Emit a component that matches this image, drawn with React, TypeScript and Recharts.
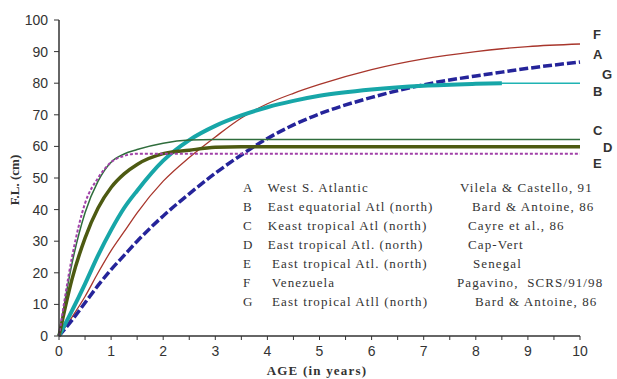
import React from "react";
import { LineChart, Line, XAxis, YAxis } from "recharts";

// ages (years) shared by every curve
const ages = [0, 0.25, 0.5, 0.75, 1, 1.25, 1.5, 2, 2.5, 3, 3.5, 4, 4.5, 5, 6, 7, 8, 8.5, 9, 10];

// fork length (cm)
const seriesA = [0, 5, 10.5, 16, 21, 25.5, 30, 38, 45, 51.5, 57.3, 62.5, 66.8, 70.3, 75.5, 79.5, 82.3, 83.5, 84.7, 86.7];
const seriesB = [0, 8, 16.5, 25.5, 33.5, 40.5, 46, 55.5, 62, 66.5, 69.8, 72.4, 74.4, 76, 78, 79.2, 79.8, 80, 80, 80];
const seriesC = [0, 23, 39, 49, 55, 57.6, 59, 61, 62, 62.2, 62.2, 62.2, 62.2, 62.2, 62.2, 62.2, 62.2, 62.2, 62.2, 62.2];
const seriesD = [0, 18, 31, 40.5, 47, 51.3, 54.3, 57.7, 58.8, 59.7, 59.9, 59.9, 59.9, 59.9, 59.9, 59.9, 59.9, 59.9, 59.9, 59.9];
const seriesE = [0, 25, 42, 50, 55, 57, 57.7, 57.7, 57.7, 57.7, 57.7, 57.7, 57.7, 57.7, 57.7, 57.7, 57.7, 57.7, 57.7, 57.7];
const seriesF = [0, 6, 12.5, 20, 27, 33, 39, 49, 56.5, 63, 69, 73.5, 76.8, 79.6, 84.3, 87.7, 90, 90.9, 91.6, 92.4];
const seriesG = [0, 8, 16.5, 25.5, 33.5, 40.5, 46, 55.5, 62, 66.5, 69.8, 72.4, 74.4, 76, 78, 79.2, 79.8, 80, null, null];

const yTicks = [0, 10, 20, 30, 40, 50, 60, 70, 80, 90, 100];
const xTicks = [0, 0.5, 1, 1.5, 2, 2.5, 3, 3.5, 4, 4.5, 5, 5.5, 6, 6.5, 7, 7.5, 8, 8.5, 9, 9.5, 10];

const legendCodes = ["A", "B", "C", "D", "E", "F", "G"];
const legendAreas = [
  "West S. Atlantic",
  "East equatorial Atl (north)",
  "Keast tropical Atl (north)",
  "East tropical Atl. (north)",
  " East tropical Atl. (north)",
  " Venezuela",
  " East tropical Atll (north)",
];
const legendSources = [
  "Vilela & Castello, 91",
  "Bard & Antoine, 86",
  "Cayre et al., 86",
  "Cap-Vert",
  "Senegal",
  "Pagavino,  SCRS/91/98",
  "Bard & Antoine, 86",
];
const sourceX = [460, 472, 468, 468, 473, 457, 475];

// end-of-curve letters and where they sit
const endLetters = ["F", "A", "G", "B", "C", "D", "E"];
const endLetterPos = [
  [593, 35],
  [593, 55],
  [602, 75],
  [593, 92],
  [593, 131],
  [603, 148],
  [593, 164],
];

const data = ages.map((age, i) => ({
  age,
  A: seriesA[i],
  B: seriesB[i],
  C: seriesC[i],
  D: seriesD[i],
  E: seriesE[i],
  F: seriesF[i],
  G: seriesG[i],
}));

const tickStyle = { fill: "#333", fontSize: 14, fontFamily: "'Liberation Sans', Arial, sans-serif" };
const serif = "'Liberation Serif', 'Times New Roman', serif";

export default function App() {
  return (
    <div style={{ position: "absolute", left: 0, top: 0, width: 617, height: 379, background: "#fff", overflow: "hidden" }}>
      <LineChart width={617} height={379} data={data} margin={{ top: 20, right: 37, left: 0, bottom: 0 }}>
        <XAxis
          dataKey="age"
          type="number"
          domain={[0, 10]}
          ticks={xTicks}
          interval={0}
          tickFormatter={(v: number) => (Number.isInteger(v) ? String(v) : "")}
          tick={tickStyle}
          height={43}
          axisLine={{ stroke: "#333", strokeWidth: 1.5 }}
          tickLine={{ stroke: "#333" }}
          tickSize={4}
          tickMargin={6}
        />
        <YAxis
          domain={[0, 100]}
          ticks={yTicks}
          interval={0}
          tick={tickStyle}
          width={59}
          axisLine={{ stroke: "#333", strokeWidth: 1.5 }}
          tickLine={{ stroke: "#333" }}
          tickSize={5}
          tickMargin={6}
        />
        <Line type="monotone" dataKey="F" stroke="#a8362c" strokeWidth={1.3} dot={false} isAnimationActive={false} />
        <Line type="monotone" dataKey="A" stroke="#25249a" strokeWidth={3.5} strokeDasharray="9 3" dot={false} isAnimationActive={false} />
        <Line type="monotone" dataKey="B" stroke="#1fb3b3" strokeWidth={1.5} dot={false} isAnimationActive={false} />
        <Line type="monotone" dataKey="G" stroke="#17a6a8" strokeWidth={4} dot={false} connectNulls={false} isAnimationActive={false} />
        <Line type="monotone" dataKey="C" stroke="#2f6d3c" strokeWidth={1.5} dot={false} isAnimationActive={false} />
        <Line type="monotone" dataKey="D" stroke="#4d5a12" strokeWidth={3.5} dot={false} isAnimationActive={false} />
        <Line type="monotone" dataKey="E" stroke="#a040a8" strokeWidth={2} strokeDasharray="3 2" dot={false} isAnimationActive={false} />
      </LineChart>

      {endLetters.map((l, i) => (
        <div
          key={l}
          style={{
            position: "absolute",
            left: endLetterPos[i][0],
            top: endLetterPos[i][1] - 8,
            fontFamily: "'Liberation Sans', Arial, sans-serif",
            fontWeight: "bold",
            fontSize: 13,
            color: "#333",
            lineHeight: "16px",
          }}
        >
          {l}
        </div>
      ))}

      {legendCodes.map((c, i) => (
        <React.Fragment key={c}>
          <div style={{ position: "absolute", left: 243, top: 180 + i * 19, fontFamily: serif, fontSize: 13, color: "#333", lineHeight: "16px", whiteSpace: "pre" }}>
            {c}
          </div>
          <div style={{ position: "absolute", left: 259, top: 180 + i * 19, fontFamily: serif, fontSize: 13, letterSpacing: 1.1, color: "#333", lineHeight: "16px", whiteSpace: "pre" }}>
            {"  " + legendAreas[i]}
          </div>
          <div style={{ position: "absolute", left: sourceX[i], top: 180 + i * 19, fontFamily: serif, fontSize: 13, letterSpacing: 1.1, color: "#333", lineHeight: "16px", whiteSpace: "pre" }}>
            {legendSources[i]}
          </div>
        </React.Fragment>
      ))}

      <div
        style={{
          position: "absolute",
          left: 15,
          top: 180,
          transform: "translate(-50%, -50%) rotate(-90deg)",
          fontFamily: serif,
          fontWeight: "bold",
          fontSize: 13,
          color: "#333",
          whiteSpace: "nowrap",
        }}
      >
        F.L. (cm)
      </div>
      <div
        style={{
          position: "absolute",
          left: 317,
          top: 363,
          transform: "translateX(-50%)",
          fontFamily: serif,
          fontWeight: "bold",
          fontSize: 13,
          lineHeight: "15px",
          letterSpacing: 1.2,
          color: "#333",
          whiteSpace: "nowrap",
        }}
      >
        AGE (in years)
      </div>
    </div>
  );
}
